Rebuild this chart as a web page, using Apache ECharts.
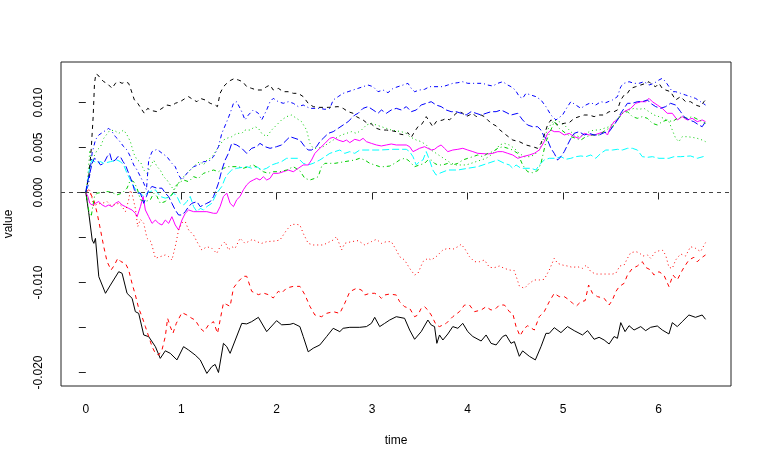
<!DOCTYPE html>
<html>
<head>
<meta charset="utf-8">
<script src="https://cdn.jsdelivr.net/npm/echarts@6/dist/echarts.min.js"></script>
<style>
html,body{margin:0;padding:0;background:#fff;}
#chart{width:762px;height:464px;}
</style>
</head>
<body>
<div id="chart"></div>
<script>
// values are in thousandths (x 0.001), pairs of [time, value]
const xTicks = [0, 1, 2, 3, 4, 5, 6];
const yTicks = [-0.02, -0.015, -0.01, -0.005, 0, 0.005, 0.01];
const yLabels = [-0.02, -0.01, 0, 0.005, 0.01];

const blackSolid = [[0,0],[0.03,-2.2],[0.067,-5.28],[0.084,-5.65],[0.101,-5.1],[0.136,-9.35],[0.206,-11.2],[0.258,-10.28],[0.345,-8.8],[0.38,-8.98],[0.432,-11.2],[0.485,-11.76],[0.519,-13.24],[0.554,-13.43],[0.607,-15.83],[0.659,-16.02],[0.729,-17.13],[0.78,-18.43],[0.833,-17.59],[0.885,-17.87],[0.955,-18.6],[1.024,-17.13],[1.077,-17.5],[1.146,-18.06],[1.199,-18.6],[1.268,-20.1],[1.32,-19.35],[1.355,-19.1],[1.39,-20.0],[1.442,-16.76],[1.477,-17.13],[1.512,-17.87],[1.634,-14.54],[1.686,-14.6],[1.738,-14.35],[1.808,-13.87],[1.895,-15.46],[1.999,-14.24],[2.052,-14.7],[2.139,-14.65],[2.174,-14.54],[2.243,-14.9],[2.278,-16.0],[2.33,-17.7],[2.383,-17.3],[2.452,-16.94],[2.522,-16.02],[2.592,-15.09],[2.661,-15.46],[2.696,-15.09],[2.766,-14.98],[2.87,-14.98],[2.94,-14.9],[2.992,-14.54],[3.027,-13.87],[3.079,-14.9],[3.131,-14.54],[3.184,-14.17],[3.253,-13.8],[3.34,-13.98],[3.393,-15.28],[3.445,-16.31],[3.514,-15.46],[3.584,-14.17],[3.619,-14.72],[3.654,-14.9],[3.678,-16.76],[3.706,-15.83],[3.741,-16.39],[3.793,-15.72],[3.845,-14.9],[3.898,-15.09],[3.95,-14.54],[4.002,-15.46],[4.055,-16.0],[4.142,-16.5],[4.194,-15.83],[4.246,-16.76],[4.299,-16.94],[4.368,-16.0],[4.403,-15.83],[4.455,-16.76],[4.49,-16.57],[4.542,-18.2],[4.577,-17.6],[4.647,-18.2],[4.664,-18.2],[4.71,-18.6],[4.769,-17.13],[4.821,-15.65],[4.856,-15.65],[4.908,-15.02],[4.978,-15.57],[5.047,-14.9],[5.117,-15.35],[5.204,-15.83],[5.257,-15.35],[5.326,-16.31],[5.378,-16.09],[5.431,-16.39],[5.483,-16.83],[5.535,-16.0],[5.57,-16.2],[5.605,-14.46],[5.65,-15.46],[5.692,-14.8],[5.744,-15.28],[5.814,-14.9],[5.866,-15.35],[5.918,-14.98],[5.988,-14.83],[6.04,-15.28],[6.11,-15.72],[6.145,-14.46],[6.197,-14.9],[6.249,-14.35],[6.319,-13.61],[6.388,-13.87],[6.458,-13.61],[6.493,-14.09]];

const redDashed = [[0,0],[0.03,0.3],[0.056,-0.28],[0.084,-0.83],[0.119,-2.31],[0.154,-4.17],[0.188,-6.02],[0.223,-7.69],[0.265,-8.61],[0.3,-8.06],[0.335,-7.31],[0.369,-7.69],[0.415,-7.87],[0.449,-8.61],[0.484,-10.09],[0.519,-11.39],[0.554,-12.87],[0.589,-13.8],[0.624,-14.9],[0.659,-16.0],[0.694,-17.13],[0.729,-17.87],[0.763,-18.06],[0.798,-17.5],[0.833,-16.0],[0.857,-13.98],[0.885,-14.9],[0.913,-15.65],[0.948,-14.54],[1.007,-13.35],[1.059,-13.61],[1.111,-13.98],[1.146,-14.17],[1.199,-15.09],[1.24,-15.46],[1.285,-14.72],[1.338,-14.35],[1.38,-15.65],[1.442,-12.28],[1.477,-12.46],[1.512,-12.65],[1.547,-10.61],[1.599,-9.87],[1.651,-9.31],[1.686,-9.31],[1.738,-10.98],[1.808,-11.35],[1.86,-11.17],[1.912,-11.35],[1.964,-11.72],[2.017,-10.98],[2.052,-11.17],[2.104,-10.61],[2.174,-10.43],[2.243,-10.43],[2.295,-11.35],[2.348,-12.65],[2.4,-13.61],[2.47,-13.8],[2.522,-13.43],[2.592,-13.24],[2.661,-13.43],[2.713,-12.31],[2.766,-11.02],[2.835,-10.65],[2.888,-10.83],[2.923,-11.39],[2.975,-11.2],[3.027,-11.2],[3.062,-11.39],[3.097,-11.76],[3.131,-11.39],[3.184,-11.28],[3.253,-11.39],[3.288,-12.13],[3.34,-12.69],[3.393,-12.87],[3.445,-13.8],[3.48,-13.61],[3.514,-12.87],[3.549,-12.69],[3.584,-13.06],[3.619,-13.61],[3.671,-14.72],[3.706,-14.9],[3.776,-14.54],[3.845,-13.8],[3.915,-13.24],[3.968,-12.5],[4.02,-12.5],[4.072,-13.24],[4.142,-13.06],[4.194,-12.69],[4.246,-13.06],[4.299,-12.87],[4.333,-12.5],[4.386,-12.5],[4.438,-13.24],[4.473,-13.43],[4.508,-14.9],[4.549,-15.94],[4.595,-15.09],[4.63,-14.8],[4.699,-15.28],[4.751,-13.8],[4.803,-13.24],[4.856,-12.13],[4.908,-11.2],[4.96,-11.57],[5.013,-11.57],[5.065,-11.94],[5.1,-12.31],[5.141,-12.61],[5.187,-12.13],[5.232,-12.02],[5.268,-10.28],[5.309,-11.2],[5.361,-11.57],[5.431,-11.76],[5.483,-12.5],[5.518,-11.94],[5.553,-11.02],[5.588,-10.46],[5.64,-10.09],[5.675,-9.17],[5.727,-8.43],[5.779,-8.17],[5.831,-7.69],[5.866,-8.32],[5.918,-8.61],[5.953,-9.17],[6.005,-8.8],[6.057,-9.17],[6.11,-10.46],[6.152,-9.17],[6.197,-9.72],[6.232,-8.98],[6.267,-8.32],[6.319,-7.5],[6.371,-7.2],[6.406,-7.69],[6.458,-7.2],[6.493,-6.94]];

const greenDotted = [[0,0],[0.021,1.76],[0.042,4.72],[0.066,3.24],[0.084,3.98],[0.119,4.72],[0.154,5.09],[0.188,6.02],[0.24,6.76],[0.293,6.94],[0.345,6.57],[0.397,6.94],[0.432,6.39],[0.467,5.65],[0.502,4.35],[0.537,3.61],[0.572,3.43],[0.607,2.5],[0.641,2.13],[0.676,2.87],[0.711,3.61],[0.746,2.87],[0.78,2.5],[0.815,1.76],[0.85,1.39],[0.885,0.85],[0.92,0.3],[0.955,0.67],[0.989,1.39],[1.024,1.76],[1.059,2.13],[1.094,2.5],[1.129,2.87],[1.164,3.24],[1.199,3.43],[1.233,3.06],[1.268,3.61],[1.303,3.8],[1.338,4.17],[1.39,5.09],[1.442,5.83],[1.477,6.02],[1.529,6.2],[1.581,6.57],[1.634,6.57],[1.668,6.94],[1.721,6.94],[1.773,7.31],[1.808,7.13],[1.843,6.57],[1.895,6.2],[1.947,6.94],[1.999,7.5],[2.051,8.06],[2.104,8.43],[2.156,8.61],[2.208,8.24],[2.26,7.87],[2.313,6.94],[2.348,5.46],[2.383,4.91],[2.435,4.91],[2.487,5.09],[2.54,5.46],[2.592,5.83],[2.644,6.2],[2.679,6.39],[2.731,6.57],[2.783,6.76],[2.835,6.57],[2.888,6.94],[2.94,7.5],[2.992,7.69],[3.045,7.5],[3.097,7.31],[3.149,7.13],[3.201,6.94],[3.306,6.76],[3.358,6.57],[3.393,6.2],[3.428,6.02],[3.462,5.83],[3.514,5.65],[3.567,5.28],[3.619,4.72],[3.671,4.35],[3.723,3.98],[3.776,3.61],[3.828,3.24],[3.88,3.06],[3.985,3.06],[4.037,3.24],[4.089,3.43],[4.142,3.61],[4.194,3.8],[4.246,4.17],[4.299,4.72],[4.333,5.28],[4.386,5.46],[4.438,5.28],[4.49,4.91],[4.542,4.35],[4.595,3.98],[4.647,3.98],[4.699,4.17],[4.751,4.72],[4.803,6.2],[4.856,7.31],[4.908,8.06],[4.96,7.87],[5.013,7.5],[5.065,6.94],[5.117,6.39],[5.169,6.2],[5.222,6.39],[5.274,6.76],[5.326,6.94],[5.378,6.94],[5.431,7.13],[5.483,7.31],[5.535,7.87],[5.588,8.43],[5.64,8.98],[5.692,9.17],[5.744,9.35],[5.796,9.24],[5.849,9.35],[5.901,8.98],[5.953,8.61],[6.005,8.43],[6.057,8.24],[6.11,7.87],[6.145,6.94],[6.18,6.02],[6.214,5.65],[6.249,6.2],[6.301,6.2],[6.354,6.13],[6.406,6.02],[6.458,5.83],[6.493,5.65]];

const blueDotDash = [[0,0],[0.031,1.04],[0.066,4.37],[0.101,5.85],[0.136,6.39],[0.188,6.76],[0.24,7.13],[0.275,6.76],[0.31,6.2],[0.345,5.83],[0.397,5.09],[0.432,4.72],[0.467,3.98],[0.502,3.06],[0.537,2.5],[0.572,1.76],[0.607,1.04],[0.635,0.3],[0.659,3.61],[0.694,4.54],[0.746,4.8],[0.798,4.37],[0.85,3.98],[0.902,3.24],[0.937,2.87],[0.972,1.94],[1.007,1.39],[1.059,2.13],[1.129,2.87],[1.181,3.06],[1.233,3.43],[1.285,3.43],[1.338,3.98],[1.39,5.09],[1.425,6.57],[1.477,7.87],[1.512,8.8],[1.547,9.91],[1.581,10.09],[1.634,8.98],[1.668,8.06],[1.703,8.61],[1.755,9.17],[1.808,8.8],[1.843,8.06],[1.895,9.17],[1.93,10.09],[1.964,10.46],[2.017,10.09],[2.069,9.91],[2.121,10.09],[2.174,9.91],[2.226,9.54],[2.278,9.72],[2.348,9.35],[2.452,9.35],[2.505,9.24],[2.557,9.35],[2.592,10.28],[2.644,10.65],[2.696,11.02],[2.748,11.2],[2.801,11.39],[2.853,11.57],[2.905,11.76],[2.957,11.94],[3.01,11.76],[3.062,11.2],[3.114,11.39],[3.166,11.09],[3.219,11.57],[3.271,11.76],[3.323,11.94],[3.375,12.13],[3.41,11.57],[3.445,11.2],[3.497,11.39],[3.549,11.46],[3.601,11.76],[3.741,11.76],[3.793,11.94],[3.845,12.13],[3.898,12.2],[3.95,12.31],[4.002,12.13],[4.107,12.13],[4.159,12.13],[4.211,11.94],[4.264,11.83],[4.316,12.13],[4.368,12.31],[4.421,11.94],[4.455,11.76],[4.5,11.39],[4.542,10.65],[4.577,10.46],[4.612,11.02],[4.664,10.83],[4.716,10.65],[4.769,10.28],[4.821,9.54],[4.873,8.61],[4.926,8.06],[4.995,8.61],[5.047,9.54],[5.082,10.09],[5.134,9.72],[5.187,9.35],[5.239,9.72],[5.291,9.98],[5.343,9.72],[5.396,10.09],[5.448,9.98],[5.518,10.28],[5.57,10.65],[5.605,11.76],[5.64,12.13],[5.692,12.31],[5.744,12.13],[5.796,12.13],[5.849,12.31],[5.901,11.94],[5.953,12.13],[6.005,12.5],[6.04,12.69],[6.075,12.31],[6.11,11.76],[6.145,11.2],[6.18,11.2],[6.232,11.02],[6.284,10.83],[6.336,10.65],[6.388,10.46],[6.441,10.09],[6.493,9.72]];

const cyanLongDash = [[0,0],[0.014,0.67],[0.031,2.13],[0.049,3.24],[0.066,3.61],[0.084,3.43],[0.119,3.24],[0.154,3.43],[0.188,3.24],[0.258,3.43],[0.327,3.61],[0.362,3.43],[0.397,3.06],[0.432,2.13],[0.467,1.39],[0.502,0.67],[0.537,0.11],[0.572,-0.07],[0.607,-0.44],[0.641,-0.07],[0.676,0.11],[0.729,0.3],[0.78,-0.44],[0.833,-0.63],[0.885,-0.44],[0.92,-0.07],[0.955,-0.44],[0.989,-1.2],[1.024,-1.39],[1.059,-1.0],[1.094,-0.44],[1.129,-1.57],[1.164,-2.13],[1.199,-1.76],[1.233,-1.94],[1.268,-1.57],[1.32,-1.2],[1.372,-0.07],[1.425,0.67],[1.46,1.6],[1.494,2.13],[1.529,2.5],[1.581,2.69],[1.686,2.87],[1.738,2.69],[1.79,2.87],[1.843,2.5],[1.895,2.69],[1.947,3.06],[1.999,3.24],[2.051,3.43],[2.104,3.8],[2.226,3.8],[2.278,3.24],[2.33,3.06],[2.382,3.24],[2.452,3.61],[2.505,3.98],[2.557,4.35],[2.609,4.54],[2.661,4.72],[2.713,4.35],[2.766,4.54],[2.818,4.35],[2.87,4.72],[2.975,4.72],[3.079,4.72],[3.219,4.8],[3.358,4.8],[3.393,4.54],[3.428,3.98],[3.462,3.06],[3.497,3.43],[3.532,3.61],[3.567,4.54],[3.601,3.61],[3.636,2.5],[3.671,1.94],[3.706,2.13],[3.793,2.5],[3.898,2.5],[4.002,2.69],[4.107,2.87],[4.211,3.24],[4.316,3.61],[4.386,3.24],[4.438,3.06],[4.473,2.69],[4.508,3.06],[4.56,2.69],[4.664,2.69],[4.716,2.5],[4.751,3.06],[4.803,3.61],[4.856,3.8],[4.926,3.8],[4.978,3.98],[5.03,3.69],[5.082,3.8],[5.134,3.98],[5.187,4.06],[5.239,3.98],[5.291,4.17],[5.343,3.8],[5.396,4.35],[5.448,4.72],[5.518,4.72],[5.57,4.8],[5.622,4.72],[5.675,4.91],[5.727,4.91],[5.779,4.72],[5.831,3.98],[5.884,3.91],[5.936,3.98],[6.005,3.8],[6.11,3.8],[6.162,3.98],[6.232,3.98],[6.336,4.06],[6.406,3.8],[6.493,4.06]];

const magentaSolid = [[0,0],[0.021,-0.44],[0.042,-1.2],[0.066,-1.39],[0.101,-1.2],[0.136,-1.0],[0.171,-1.39],[0.206,-1.57],[0.24,-1.39],[0.275,-1.57],[0.31,-1.2],[0.345,-1.0],[0.38,-1.39],[0.415,-1.57],[0.449,-1.76],[0.484,-1.94],[0.519,-2.31],[0.537,-2.69],[0.572,-1.57],[0.6,-0.44],[0.624,-1.94],[0.659,-2.69],[0.694,-3.43],[0.729,-3.06],[0.763,-3.43],[0.798,-3.61],[0.833,-3.06],[0.868,-3.43],[0.902,-2.69],[0.937,-3.61],[0.972,-4.17],[1.007,-3.06],[1.042,-2.31],[1.077,-1.94],[1.129,-2.13],[1.268,-2.13],[1.338,-2.31],[1.372,-2.31],[1.407,-1.57],[1.442,-0.44],[1.477,-0.07],[1.512,-1.2],[1.547,-1.57],[1.581,-0.81],[1.616,-0.44],[1.651,0.3],[1.686,0.85],[1.721,1.2],[1.755,1.39],[1.79,1.57],[1.825,1.39],[1.86,1.76],[1.895,1.39],[1.93,1.57],[1.964,2.13],[2.017,2.13],[2.069,2.31],[2.121,2.5],[2.174,2.31],[2.226,2.69],[2.278,3.06],[2.295,2.87],[2.33,3.06],[2.365,3.61],[2.4,4.35],[2.452,4.91],[2.505,5.46],[2.557,6.02],[2.592,6.13],[2.644,5.83],[2.696,5.65],[2.731,5.83],[2.766,5.54],[2.818,5.91],[2.87,5.76],[2.905,6.02],[2.94,5.65],[2.992,5.46],[3.045,5.28],[3.097,5.17],[3.149,5.28],[3.201,5.39],[3.253,5.28],[3.358,5.28],[3.393,5.09],[3.428,4.54],[3.462,4.72],[3.497,4.91],[3.549,5.09],[3.584,4.91],[3.619,4.72],[3.654,4.8],[3.688,5.09],[3.723,5.28],[3.758,4.91],[3.793,4.54],[3.845,4.72],[3.898,4.8],[3.95,4.91],[4.002,4.72],[4.055,4.54],[4.107,4.35],[4.211,4.28],[4.264,4.35],[4.316,4.54],[4.368,4.54],[4.421,4.35],[4.473,4.17],[4.525,3.8],[4.577,3.98],[4.647,4.17],[4.699,4.35],[4.751,4.72],[4.803,5.65],[4.838,6.57],[4.873,6.94],[4.908,6.76],[4.96,6.76],[5.013,6.39],[5.065,6.57],[5.117,6.2],[5.169,6.02],[5.222,6.57],[5.274,6.39],[5.326,6.39],[5.378,6.57],[5.431,6.76],[5.466,6.39],[5.5,7.31],[5.535,7.87],[5.57,8.06],[5.605,8.61],[5.64,8.98],[5.675,9.17],[5.709,9.35],[5.762,9.91],[5.814,10.09],[5.866,10.09],[5.901,10.46],[5.936,10.09],[5.988,9.72],[6.04,9.35],[6.092,8.8],[6.145,8.8],[6.197,8.06],[6.249,8.43],[6.301,8.06],[6.354,8.24],[6.406,7.87],[6.458,8.06],[6.493,7.87]];

const blackDashed = [[0,0],[0.031,1.76],[0.056,4.72],[0.077,8.43],[0.091,12.13],[0.105,13.17],[0.126,13.06],[0.154,12.69],[0.188,12.31],[0.223,12.13],[0.275,11.57],[0.31,12.13],[0.345,12.31],[0.38,12.13],[0.415,12.31],[0.449,12.13],[0.474,11.39],[0.509,10.28],[0.544,9.91],[0.589,9.17],[0.613,8.8],[0.648,9.35],[0.694,9.09],[0.746,8.98],[0.798,9.35],[0.85,9.72],[0.902,9.61],[0.937,9.91],[0.989,10.09],[1.042,10.46],[1.077,10.65],[1.129,10.28],[1.164,10.09],[1.199,10.46],[1.251,10.28],[1.303,9.91],[1.355,9.72],[1.379,9.54],[1.407,11.02],[1.442,11.76],[1.477,12.13],[1.512,12.43],[1.553,12.65],[1.599,12.5],[1.644,12.31],[1.686,11.76],[1.738,11.57],[1.79,11.39],[1.843,11.39],[1.895,11.76],[1.93,11.94],[1.964,11.39],[2.017,11.57],[2.069,11.2],[2.121,11.2],[2.174,11.02],[2.226,11.02],[2.278,10.65],[2.33,9.91],[2.383,9.54],[2.435,9.46],[2.54,9.46],[2.644,9.54],[2.696,9.35],[2.748,8.98],[2.801,8.8],[2.835,8.43],[2.87,8.24],[2.905,8.06],[2.94,7.76],[2.992,7.61],[3.045,7.13],[3.097,6.94],[3.149,6.94],[3.201,6.87],[3.253,6.76],[3.288,6.5],[3.34,6.39],[3.375,6.65],[3.41,6.13],[3.445,6.76],[3.48,7.31],[3.514,7.5],[3.549,8.06],[3.567,8.43],[3.601,7.87],[3.636,7.31],[3.671,7.87],[3.741,8.06],[3.776,8.24],[3.81,8.06],[3.845,8.43],[3.88,8.8],[3.915,8.98],[3.95,8.8],[3.985,8.43],[4.02,8.61],[4.055,8.8],[4.089,8.43],[4.142,8.61],[4.176,8.43],[4.211,8.06],[4.246,7.69],[4.299,7.4],[4.333,7.0],[4.403,6.4],[4.473,5.83],[4.542,5.65],[4.612,5.28],[4.681,5.09],[4.734,4.91],[4.769,5.46],[4.803,6.39],[4.838,7.5],[4.873,8.06],[4.908,7.87],[4.943,7.5],[5.013,7.69],[5.065,7.76],[5.117,8.24],[5.169,8.43],[5.222,8.61],[5.274,8.61],[5.326,8.43],[5.378,8.61],[5.431,8.61],[5.483,8.98],[5.535,8.98],[5.57,9.17],[5.605,10.28],[5.64,10.83],[5.675,11.02],[5.709,11.57],[5.762,11.76],[5.814,11.94],[5.866,12.13],[5.901,12.31],[5.936,11.94],[5.971,11.76],[6.005,12.13],[6.04,11.57],[6.075,11.39],[6.127,11.2],[6.18,10.28],[6.232,10.65],[6.284,10.09],[6.336,10.09],[6.388,9.72],[6.441,9.54],[6.476,10.09],[6.493,10.28]];

const redDotted = [[0,0],[0.042,0.26],[0.067,-0.67],[0.084,-1.57],[0.119,-1.28],[0.171,-1.2],[0.223,-1.02],[0.258,-1.39],[0.293,-1.39],[0.345,-1.2],[0.38,-1.57],[0.415,-2.13],[0.449,-0.83],[0.467,0.26],[0.484,-0.11],[0.519,-1.76],[0.544,-3.8],[0.572,-2.98],[0.607,-3.43],[0.641,-5.09],[0.683,-5.46],[0.729,-7.31],[0.78,-7.13],[0.833,-6.94],[0.868,-7.13],[0.902,-7.5],[0.937,-6.02],[0.972,-4.17],[1.007,-3.35],[1.042,-3.24],[1.077,-4.17],[1.129,-4.72],[1.164,-5.46],[1.216,-6.39],[1.268,-6.02],[1.32,-6.2],[1.372,-6.76],[1.407,-6.02],[1.46,-5.46],[1.494,-6.39],[1.529,-6.02],[1.564,-6.2],[1.616,-5.09],[1.668,-5.65],[1.749,-5.2],[1.79,-5.46],[1.843,-5.65],[1.895,-5.46],[1.982,-5.39],[2.034,-5.28],[2.104,-4.17],[2.156,-3.54],[2.208,-3.54],[2.243,-3.61],[2.278,-4.54],[2.33,-5.65],[2.383,-5.83],[2.487,-5.83],[2.592,-5.28],[2.626,-4.91],[2.661,-5.83],[2.679,-6.39],[2.713,-5.65],[2.783,-5.46],[2.853,-5.35],[2.923,-5.83],[2.992,-5.46],[3.045,-5.2],[3.097,-5.65],[3.149,-5.46],[3.201,-5.46],[3.253,-6.39],[3.288,-7.13],[3.34,-7.5],[3.393,-8.43],[3.445,-9.17],[3.48,-8.98],[3.532,-7.69],[3.584,-7.31],[3.619,-7.5],[3.671,-7.13],[3.741,-6.39],[3.793,-6.2],[3.845,-6.31],[3.898,-6.02],[3.933,-5.76],[3.968,-6.2],[4.02,-7.13],[4.072,-7.69],[4.124,-7.69],[4.177,-7.5],[4.229,-8.32],[4.281,-8.35],[4.333,-8.17],[4.386,-8.43],[4.438,-8.61],[4.49,-8.69],[4.542,-10.39],[4.595,-10.65],[4.647,-10.09],[4.699,-9.72],[4.751,-9.72],[4.803,-9.65],[4.856,-8.61],[4.908,-7.31],[4.943,-7.87],[4.995,-8.06],[5.047,-8.17],[5.1,-8.32],[5.152,-8.24],[5.204,-8.43],[5.246,-8.06],[5.291,-8.8],[5.343,-9.06],[5.448,-9.06],[5.518,-9.06],[5.553,-8.98],[5.595,-8.17],[5.64,-8.06],[5.675,-7.31],[5.709,-6.69],[5.762,-6.57],[5.796,-6.69],[5.838,-7.06],[5.884,-6.94],[5.918,-7.31],[5.971,-6.57],[6.04,-6.39],[6.075,-6.94],[6.11,-8.32],[6.145,-8.43],[6.18,-7.5],[6.232,-6.83],[6.284,-7.06],[6.336,-6.02],[6.388,-6.2],[6.441,-6.57],[6.493,-5.57]];

const greenDotDash = [[0,0],[0.014,-0.81],[0.035,-2.3],[0.056,-2.67],[0.073,-1.57],[0.091,-0.46],[0.119,-0.07],[0.171,0],[0.223,0.11],[0.275,0],[0.327,-0.26],[0.38,-0.07],[0.432,0.48],[0.467,1.39],[0.502,1.2],[0.537,0.48],[0.572,-0.81],[0.624,-1.0],[0.676,-0.81],[0.711,-0.07],[0.746,-0.44],[0.78,-1.2],[0.833,-1.0],[0.868,-0.44],[0.902,-0.26],[0.937,0.67],[0.972,1.04],[1.024,1.39],[1.077,1.2],[1.129,1.76],[1.181,1.57],[1.233,2.13],[1.285,2.31],[1.338,2.5],[1.39,2.31],[1.442,2.69],[1.494,2.87],[1.599,2.87],[1.651,2.69],[1.703,2.87],[1.755,3.06],[1.808,2.69],[1.86,2.31],[1.912,2.13],[1.964,2.31],[2.034,2.31],[2.104,2.5],[2.174,2.87],[2.243,2.4],[2.295,1.57],[2.348,1.39],[2.4,1.57],[2.435,1.76],[2.47,2.87],[2.505,3.24],[2.609,3.24],[2.713,3.43],[2.818,3.61],[2.87,3.8],[2.923,3.61],[2.975,3.24],[3.027,3.06],[3.079,2.87],[3.131,2.87],[3.184,2.94],[3.236,3.24],[3.288,3.61],[3.34,3.8],[3.375,3.61],[3.41,3.24],[3.445,2.87],[3.497,3.06],[3.549,3.24],[3.584,3.61],[3.619,3.61],[3.654,3.24],[3.688,3.06],[3.741,3.06],[3.793,3.24],[3.845,3.06],[3.898,3.24],[3.95,3.61],[4.002,3.8],[4.055,3.98],[4.107,4.17],[4.159,3.98],[4.211,4.35],[4.264,4.54],[4.316,4.91],[4.368,5.09],[4.421,4.91],[4.473,4.72],[4.525,4.35],[4.577,3.06],[4.629,2.31],[4.681,2.2],[4.734,2.43],[4.769,3.24],[4.821,5.65],[4.873,6.94],[4.908,7.87],[4.96,7.13],[5.03,6.57],[5.082,6.2],[5.134,6.02],[5.187,5.83],[5.239,6.2],[5.309,6.39],[5.378,6.39],[5.448,6.94],[5.518,7.31],[5.57,8.06],[5.622,8.8],[5.675,8.98],[5.727,8.43],[5.779,8.24],[5.831,8.43],[5.884,8.24],[5.936,7.69],[5.988,7.5],[6.04,7.87],[6.092,8.06],[6.145,7.87],[6.197,8.24],[6.249,8.43],[6.301,8.24],[6.354,8.43],[6.423,8.06],[6.493,7.69]];

const blueLongDash = [[0,0],[0.014,1.04],[0.042,2.13],[0.066,3.24],[0.091,3.8],[0.119,3.61],[0.154,3.06],[0.188,3.24],[0.223,3.98],[0.251,4.35],[0.275,3.43],[0.31,3.61],[0.335,3.98],[0.362,3.98],[0.39,3.43],[0.415,3.06],[0.449,2.13],[0.484,1.2],[0.509,0.3],[0.537,-0.07],[0.572,-0.07],[0.607,-1.2],[0.635,-0.46],[0.659,0.3],[0.694,0.67],[0.746,0.48],[0.798,0.48],[0.833,-0.07],[0.868,-0.46],[0.902,-1.2],[0.937,-1.94],[0.972,-2.5],[1.007,-2.5],[1.042,-2.13],[1.077,-1.57],[1.111,-1.2],[1.164,-1.02],[1.199,-1.57],[1.233,-1.39],[1.268,-1.2],[1.303,-1.02],[1.338,-0.46],[1.365,0.3],[1.39,1.04],[1.425,2.5],[1.46,3.61],[1.494,4.35],[1.529,5.46],[1.581,5.28],[1.634,4.91],[1.686,4.35],[1.738,4.91],[1.79,5.09],[1.825,5.46],[1.877,5.09],[1.93,4.91],[1.999,5.09],[2.051,5.28],[2.139,6.2],[2.191,6.02],[2.243,5.83],[2.295,5.09],[2.33,4.72],[2.365,4.72],[2.417,5.09],[2.452,5.65],[2.487,6.02],[2.54,6.57],[2.592,6.76],[2.644,7.13],[2.696,7.5],[2.748,7.87],[2.783,8.24],[2.818,8.61],[2.853,8.8],[2.905,9.35],[2.957,9.54],[3.01,9.17],[3.062,8.8],[3.097,9.17],[3.149,8.8],[3.201,9.17],[3.253,9.35],[3.306,9.17],[3.358,9.54],[3.41,8.98],[3.462,9.17],[3.514,9.72],[3.567,9.91],[3.619,10.09],[3.671,9.72],[3.723,9.54],[3.776,9.17],[3.828,8.98],[3.88,8.98],[3.933,8.8],[3.985,8.61],[4.037,8.98],[4.089,8.8],[4.142,8.61],[4.194,8.8],[4.246,8.98],[4.299,8.98],[4.351,9.17],[4.403,8.9],[4.455,8.61],[4.525,8.8],[4.577,8.06],[4.629,7.5],[4.681,7.31],[4.734,7.31],[4.769,6.94],[4.803,6.2],[4.838,5.83],[4.873,4.91],[4.908,4.35],[4.943,3.61],[4.978,3.98],[5.013,4.54],[5.047,5.28],[5.082,6.02],[5.117,6.57],[5.169,6.76],[5.222,6.39],[5.274,6.57],[5.326,6.39],[5.378,6.39],[5.431,6.65],[5.483,6.76],[5.535,7.5],[5.57,8.06],[5.605,8.8],[5.64,9.35],[5.675,9.91],[5.727,9.91],[5.779,10.09],[5.831,10.09],[5.884,10.28],[5.918,9.91],[5.971,9.54],[6.023,9.35],[6.075,9.54],[6.127,9.91],[6.18,9.72],[6.232,8.98],[6.267,8.43],[6.319,8.06],[6.371,7.87],[6.423,7.5],[6.458,7.31],[6.493,7.87]];

const seriesDefs = [
  {name: 'V1', data: blackSolid, color: '#000000', dash: 'solid'},
  {name: 'V2', data: redDashed, color: '#FF0000', dash: [4, 4]},
  {name: 'V3', data: greenDotted, color: '#00CD00', dash: [1, 3]},
  {name: 'V4', data: blueDotDash, color: '#0000FF', dash: [1, 3, 4, 3]},
  {name: 'V5', data: cyanLongDash, color: '#00FFFF', dash: [7, 3]},
  {name: 'V6', data: magentaSolid, color: '#FF00FF', dash: 'solid'},
  {name: 'V7', data: blackDashed, color: '#000000', dash: [4, 4]},
  {name: 'V8', data: redDotted, color: '#FF0000', dash: [1, 3]},
  {name: 'V9', data: greenDotDash, color: '#00CD00', dash: [1, 3, 4, 3]},
  {name: 'V10', data: blueLongDash, color: '#0000FF', dash: [7, 3]}
];

const FONT = 'Liberation Sans, Arial, Helvetica, sans-serif';
const chart = echarts.init(document.getElementById('chart'), null, {renderer: 'canvas'});

const series = seriesDefs.map(function (s) {
  return {
    name: s.name,
    type: 'line',
    data: s.data.map(function (p) { return [p[0], p[1] / 1000]; }),
    showSymbol: false,
    symbol: 'none',
    smooth: false,
    clip: true,
    animation: false,
    lineStyle: {color: s.color, width: 1, type: s.dash, cap: 'butt'},
    z: 2
  };
});

series.push({
  name: 'zero',
  type: 'line',
  data: [],
  markLine: {
    silent: true,
    symbol: 'none',
    animation: false,
    label: {show: false},
    lineStyle: {color: '#444', width: 1.2, type: [4, 4]},
    data: [{yAxis: 0}]
  }
});

chart.setOption({
  backgroundColor: '#ffffff',
  animation: false,
  grid: {
    left: 61, right: 31, top: 62, bottom: 78,
    show: true, borderColor: '#222', borderWidth: 1, backgroundColor: 'transparent',
    containLabel: false,
    outerBoundsMode: 'none'
  },
  xAxis: {
    type: 'value',
    min: -0.26, max: 6.76,
    name: 'time',
    nameLocation: 'middle',
    nameGap: 49,
    nameTextStyle: {fontFamily: FONT, fontSize: 12, color: '#000'},
    axisLine: {show: false},
    splitLine: {show: false},
    axisTick: {show: true, length: 7, inside: false, customValues: xTicks, lineStyle: {color: '#222'}},
    axisLabel: {show: true, customValues: xTicks, margin: 18, fontFamily: FONT, fontSize: 12, color: '#000',
      formatter: function (v) { return String(v); }}
  },
  yAxis: {
    type: 'value',
    min: -0.0215, max: 0.0145,
    name: 'value',
    nameLocation: 'middle',
    nameGap: 46,
    nameRotate: 90,
    nameTextStyle: {fontFamily: FONT, fontSize: 12, color: '#000'},
    axisLine: {show: false},
    splitLine: {show: false},
    axisTick: {show: true, length: 7, inside: false, customValues: yTicks, lineStyle: {color: '#222'}},
    axisLabel: {show: true, customValues: yLabels, rotate: 90, margin: 16, fontFamily: FONT, fontSize: 12, color: '#000',
      formatter: function (v) { return v.toFixed(3); }}
  },
  series: series
});
</script>
</body>
</html>
